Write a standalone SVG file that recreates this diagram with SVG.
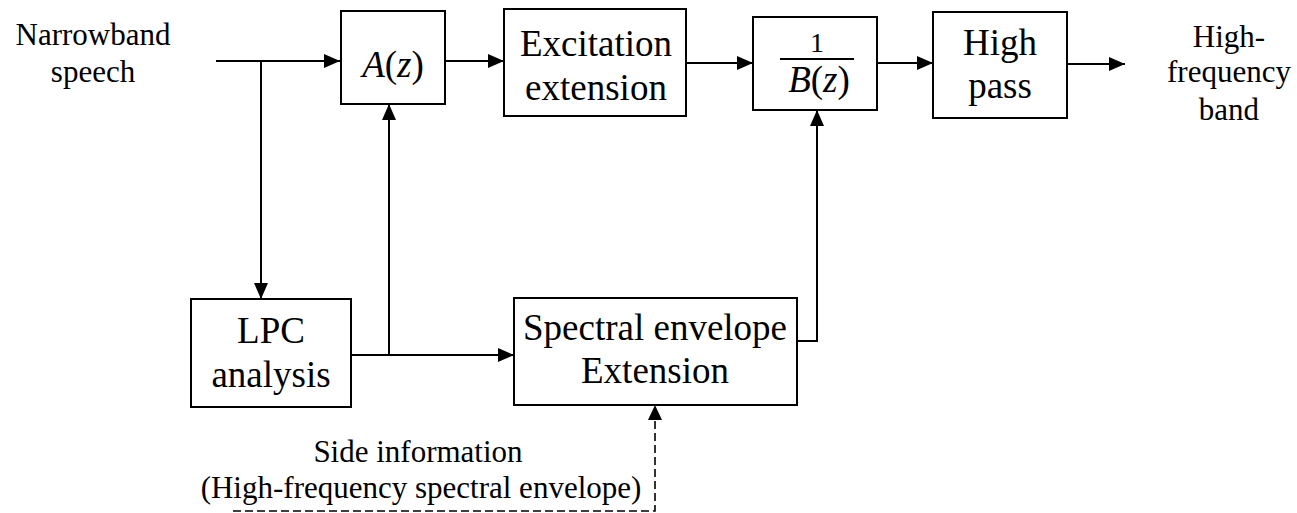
<svg xmlns="http://www.w3.org/2000/svg" width="1297" height="513" viewBox="0 0 1297 513" font-family="'Liberation Serif', 'Times New Roman', Times, serif">
<style>
.box{fill:#fff;stroke:#000;stroke-width:2}
.ln{fill:none;stroke:#000;stroke-width:2}
.dl{fill:none;stroke:#000;stroke-width:1.6;stroke-dasharray:8 4}
text{fill:#000;text-anchor:middle}
.bt{font-size:37px}
.lb{font-size:31px}
.it{font-style:italic}
</style>
<defs>
<marker id="ah" markerWidth="16" markerHeight="14" refX="16" refY="7" orient="auto" markerUnits="userSpaceOnUse">
<path d="M0,0 L16,7 L0,14 Z" fill="#000"/>
</marker>
</defs>
<rect width="1297" height="513" fill="#fff"/>
<g id="connectors">
<path class="ln" d="M216,61 H340" marker-end="url(#ah)"/>
<path class="ln" d="M261,61 V299" marker-end="url(#ah)"/>
<path class="ln" d="M445,61 H504" marker-end="url(#ah)"/>
<path class="ln" d="M686,63 H753" marker-end="url(#ah)"/>
<path class="ln" d="M877,63 H933" marker-end="url(#ah)"/>
<path class="ln" d="M1067,64 H1125" marker-end="url(#ah)"/>
<path class="ln" d="M351,355 H514" marker-end="url(#ah)"/>
<path class="ln" d="M389,355 V104" marker-end="url(#ah)"/>
<path class="ln" d="M797,341 H817 V110" marker-end="url(#ah)"/>
<path class="dl" d="M233,511 H655 V420"/>
<path d="M648,420 L655,405 L662,420 Z" fill="#000"/>
</g>
<g id="input-label">
<text class="lb" x="93" y="45">Narrowband</text>
<text class="lb" x="93" y="82">speech</text>
</g>
<g id="node-az">
<rect class="box" x="341" y="11" width="104" height="93"/>
<text class="bt it" x="393" y="77">A<tspan font-style="normal">(</tspan>z<tspan font-style="normal">)</tspan></text>
</g>
<g id="node-excitation">
<rect class="box" x="504" y="9" width="182" height="107"/>
<text class="bt" x="596" y="56">Excitation</text>
<text class="bt" x="596" y="100">extension</text>
</g>
<g id="node-bz">
<rect class="box" x="753" y="17" width="124" height="93"/>
<text x="817" y="52" font-size="28">1</text>
<line x1="780" y1="59" x2="854" y2="59" stroke="#000" stroke-width="2"/>
<text class="bt it" x="819" y="92">B<tspan font-style="normal">(</tspan>z<tspan font-style="normal">)</tspan></text>
</g>
<g id="node-highpass">
<rect class="box" x="933" y="12" width="134" height="106"/>
<text class="bt" x="1000" y="55">High</text>
<text class="bt" x="1000" y="98">pass</text>
</g>
<g id="output-label">
<text class="lb" x="1229" y="47">High-</text>
<text class="lb" x="1229" y="82">frequency</text>
<text class="lb" x="1229" y="120">band</text>
</g>
<g id="node-lpc">
<rect class="box" x="191" y="299" width="160" height="108"/>
<text class="bt" x="271" y="343">LPC</text>
<text class="bt" x="271" y="387">analysis</text>
</g>
<g id="node-spectral">
<rect class="box" x="514" y="298" width="283" height="107"/>
<text class="bt" x="655" y="340">Spectral envelope</text>
<text class="bt" x="655" y="383">Extension</text>
</g>
<g id="side-label">
<text class="lb" x="418" y="462">Side information</text>
<text class="lb" x="421" y="498">(High-frequency spectral envelope)</text>
</g>
</svg>
